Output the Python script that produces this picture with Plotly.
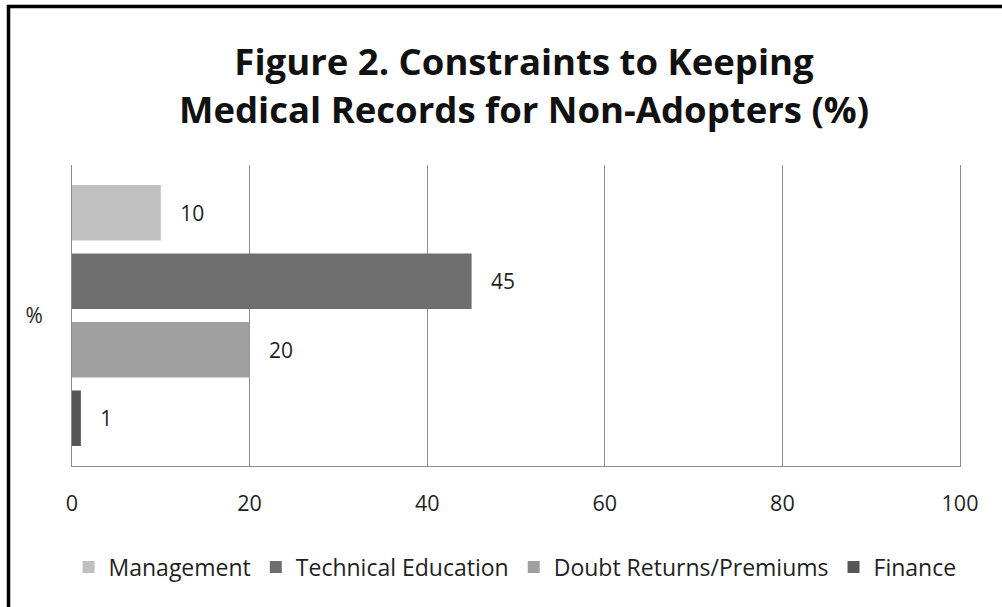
import plotly.graph_objects as go

# Share of non-adopters citing each constraint (%)
category = ["%"]
series_names = ["Management", "Technical Education", "Doubt Returns/Premiums", "Finance"]
series_values = [10, 45, 20, 1]
series_colors = ["#c0c0c0", "#6e6e6e", "#a0a0a0", "#565656"]
x_ticks = [0, 20, 40, 60, 80, 100]

FONT = "Open Sans"
TEXT_COLOR = "#1f1f1f"
GRID_COLOR = "#8c8c8c"

fig = go.Figure()
for name, value, color in zip(series_names, series_values, series_colors):
    fig.add_trace(go.Bar(
        name=name,
        y=category,
        x=[value],
        orientation="h",
        marker=dict(color=color, line=dict(width=0)),
        text=[value],
        texttemplate="\u00a0\u00a0\u00a0%{x}",
        textposition="outside",
        textfont=dict(family=FONT, size=21, color=TEXT_COLOR),
        cliponaxis=False,
    ))

fig.update_layout(
    width=1002,
    height=607,
    paper_bgcolor="white",
    plot_bgcolor="white",
    barmode="group",
    bargap=0.09,
    bargroupgap=0.19,
    margin=dict(l=72, r=42, t=165, b=141, autoexpand=False),
    font=dict(family=FONT, size=21, color=TEXT_COLOR),
    title=dict(
        text="Figure 2. Constraints to Keeping<br>Medical Records for Non-Adopters (%)",
        font=dict(family=FONT, size=36.5, color="#111111", weight="bold"),
        x=0.523,
        xref="container",
        xanchor="center",
        y=0.876,
        yref="container",
        yanchor="middle",
    ),
    xaxis=dict(
        range=[0, 100],
        tickvals=x_ticks,
        showgrid=True,
        gridcolor=GRID_COLOR,
        gridwidth=1,
        zeroline=False,
        showline=True,
        linecolor=GRID_COLOR,
        linewidth=1,
        mirror=False,
        ticks="",
        ticklabelstandoff=18,
        tickfont=dict(family=FONT, size=21.5, color=TEXT_COLOR),
    ),
    yaxis=dict(
        autorange="reversed",
        showline=True,
        linecolor=GRID_COLOR,
        linewidth=1,
        mirror=True,
        ticks="",
        ticklabelstandoff=24,
        tickfont=dict(family=FONT, size=21, color=TEXT_COLOR),
    ),
    legend=dict(
        orientation="h",
        xref="container",
        x=0.514,
        xanchor="center",
        yref="container",
        y=1 - 567 / 607,
        yanchor="middle",
        itemwidth=30,
        font=dict(family=FONT, size=23, color=TEXT_COLOR),
    ),
    showlegend=True,
)

# Frame line along the top and left edge of the figure
fig.add_shape(
    type="path",
    xref="paper",
    yref="paper",
    path="M -0.0715,-1 L -0.0715,1.5266 L 1.2,1.5266",
    line=dict(color="black", width=3.5),
    layer="above",
)

fig.write_html("out.html")
